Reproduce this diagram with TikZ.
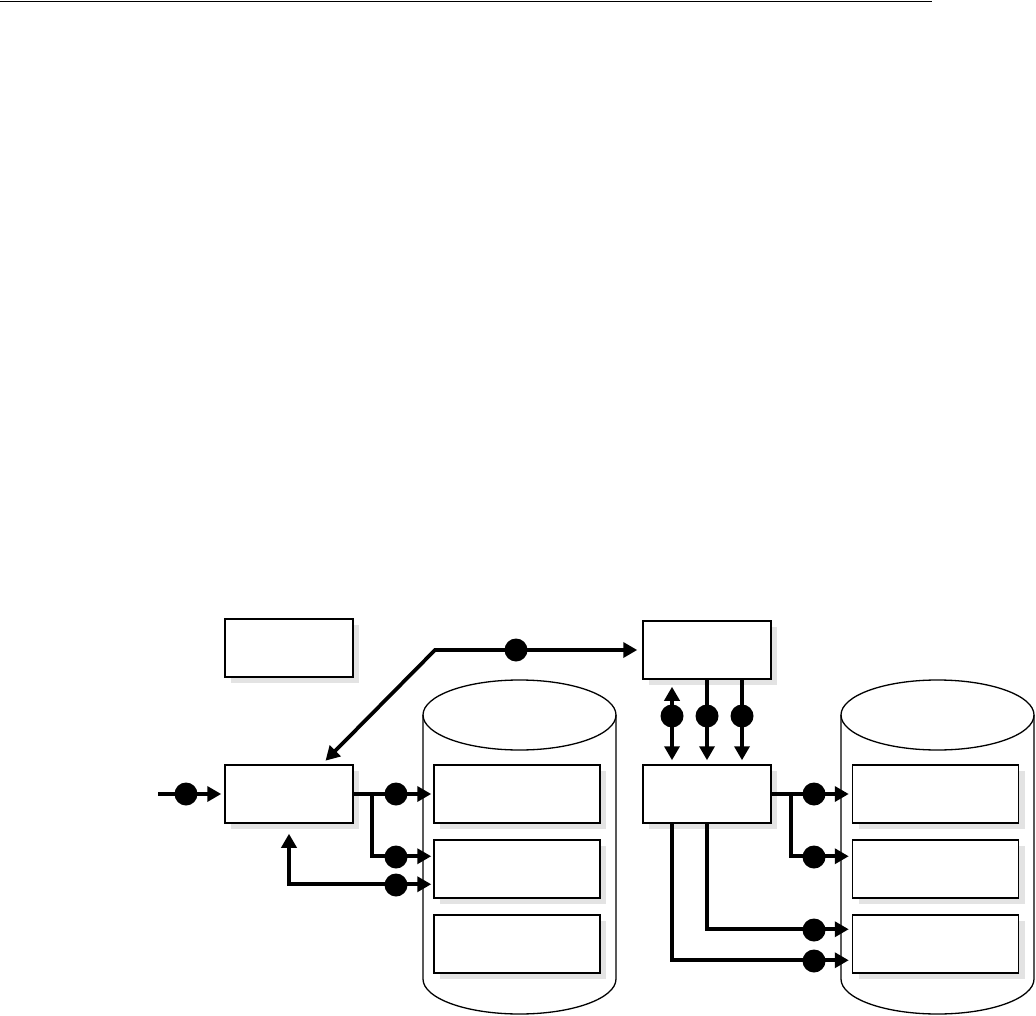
\documentclass[tikz,border=0pt]{standalone}
\usetikzlibrary{arrows.meta,shadows,calc}
\begin{document}
\begin{tikzpicture}[x=1pt,y=-1pt,
  boxnode/.style={draw,line width=1.5pt,fill=white,inner sep=0pt,minimum height=58pt,
    drop shadow={shadow xshift=6pt,shadow yshift=-6pt,fill=black!11,opacity=1}},
  smallbox/.style={boxnode,minimum width=128pt},
  cylbox/.style={boxnode,minimum width=166pt},
  conn/.style={line width=3.7pt,>={Triangle[length=14pt,width=15pt]}},
  dot/.style={circle,fill=black,inner sep=0pt,minimum size=23pt},
  cyl/.style={line width=1.3pt}]
\useasboundingbox (0,0) rectangle (1036,1016);
% top rule
\draw[line width=1pt] (0,1.5) -- (932,1.5);
% cylinders
\draw[cyl] (423,715) -- (423,979) arc[start angle=180,end angle=360,x radius=96.5pt,y radius=35pt] -- (616,715);
\draw[cyl] (519.5,715) ellipse[x radius=96.5pt,y radius=35pt];
\draw[cyl] (841,715) -- (841,979) arc[start angle=180,end angle=360,x radius=96.5pt,y radius=35pt] -- (1034,715);
\draw[cyl] (937.5,715) ellipse[x radius=96.5pt,y radius=35pt];
% boxes
\node[smallbox] (A) at (289,648) {};
\node[smallbox] (B) at (289,794) {};
\node[smallbox] (C) at (707,650) {};
\node[smallbox] (D) at (707,794) {};
\node[cylbox] (L1) at (517,794) {};
\node[cylbox] (L2) at (517,869) {};
\node[cylbox] (L3) at (517,944) {};
\node[cylbox] (R1) at (935.5,794) {};
\node[cylbox] (R2) at (935.5,869) {};
\node[cylbox] (R3) at (935.5,944) {};
% coordinates
\coordinate (in0) at (158,794);
\coordinate (j1) at (372,794);
\coordinate (j2) at (791,794);
\coordinate (bend) at (435,650);
% left side connectors
\draw[conn,->,shorten >=3pt] (in0) -- (B.west);
\draw[conn,->,shorten >=2pt] (B.east) -- (L1.west);
\draw[conn,->,shorten >=2pt] (j1) |- ($(L2.north west)+(0,17)$);
\draw[conn,<->,shorten <=10pt,shorten >=2pt] (B.south) |- ($(L2.north west)+(0,45)$);
\draw[conn,<->,shorten <=5pt,shorten >=5pt] ($(B.north)+(33,0)$) -- (bend) -- (C.west);
% C-D connectors
\draw[conn,<->,shorten <=7pt,shorten >=4pt] ($(C.south)+(-35,0)$) -- ($(D.north)+(-35,0)$);
\draw[conn,->,shorten >=4pt] (C.south) -- (D.north);
\draw[conn,->,shorten >=4pt] ($(C.south)+(35,0)$) -- ($(D.north)+(35,0)$);
% right side connectors
\draw[conn,->,shorten >=3pt] (D.east) -- (R1.west);
\draw[conn,->,shorten >=3pt] (j2) |- ($(R2.north west)+(0,17)$);
\draw[conn,->,shorten >=3pt] (D.south) |- ($(R3.north west)+(0,15)$);
\draw[conn,->,shorten >=3pt] ($(D.south)+(-35,0)$) |- ($(R3.north west)+(0,46)$);
% dots
\node[dot] (d1) at (186,794) {};
\node[dot] (d2) at (396,794) {};
\node[dot] (d3) at (396,857) {};
\node[dot] (d4) at (396,885) {};
\node[dot] (d5) at (516,650) {};
\node[dot] (d6) at (672,716) {};
\node[dot] (d7) at (707,716) {};
\node[dot] (d8) at (742,716) {};
\node[dot] (d9) at (814,794) {};
\node[dot] (d10) at (814,857) {};
\node[dot] (d11) at (814,930) {};
\node[dot] (d12) at (814,961) {};
\end{tikzpicture}
\end{document}
